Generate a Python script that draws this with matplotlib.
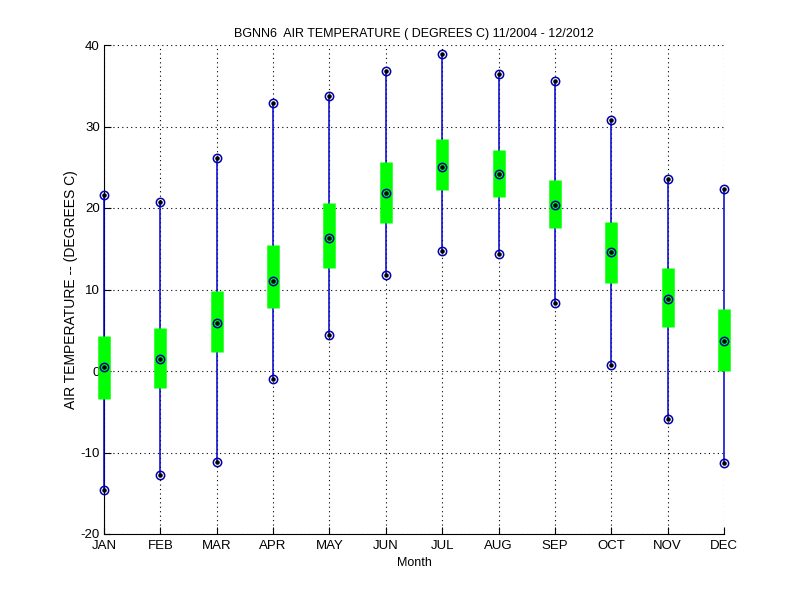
import matplotlib
matplotlib.use("Agg")
import matplotlib.pyplot as plt
import numpy as np

plt.rcParams['font.family'] = ['Liberation Sans', 'DejaVu Sans']
plt.rcParams['axes.unicode_minus'] = False

months = ['JAN', 'FEB', 'MAR', 'APR', 'MAY', 'JUN',
          'JUL', 'AUG', 'SEP', 'OCT', 'NOV', 'DEC']
t_max = [21.6, 20.7, 26.1, 32.9, 33.7, 36.8, 38.9, 36.4, 35.6, 30.8, 23.6, 22.3]
t_min = [-14.6, -12.8, -11.2, -1.0, 4.4, 11.8, 14.7, 14.4, 8.3, 0.7, -5.9, -11.3]
t_mean = [0.5, 1.5, 5.9, 11.0, 16.3, 21.8, 25.0, 24.2, 20.4, 14.6, 8.8, 3.7]
box_hi = [4.3, 5.3, 9.8, 15.5, 20.6, 25.6, 28.5, 27.1, 23.4, 18.3, 12.6, 7.6]
box_lo = [-3.4, -2.1, 2.3, 7.7, 12.6, 18.2, 22.2, 21.3, 17.5, 10.8, 5.4, 0.0]

x = np.arange(1, len(months) + 1)

fig = plt.figure(figsize=(8, 6), dpi=100)
ax = fig.add_axes([0.13, 0.11, 0.775, 0.815])

# range line max -> min
ax.vlines(x, t_min, t_max, color='#0000cc', lw=1.1, zorder=3, clip_on=False)
# green box (mean +/- std)
ax.vlines(x, box_lo, box_hi, color='#00ff00', lw=9, zorder=3, clip_on=False)

# markers: open blue circle with black dot
for vals in (t_max, t_min, t_mean):
    ax.plot(x, vals, 'o', mfc='none', mec='#0000aa', ms=6, mew=1.1,
            zorder=4, clip_on=False)
    ax.plot(x, vals, '.', color='black', ms=4.5, zorder=5, clip_on=False)

ax.set_xlim(1, 12)
ax.set_ylim(-20, 40)
ax.set_xticks(x)
ax.set_xticklabels(months)
ax.set_yticks(np.arange(-20, 41, 10))

ax.grid(True, color='black', linestyle=(0, (1, 3)), lw=0.8)
ax.spines['top'].set_visible(False)
ax.spines['right'].set_visible(False)
ax.spines['left'].set_zorder(2)
ax.tick_params(direction='in', length=5, labelsize=9.5, pad=3)
ax.tick_params(axis='x', pad=4)

ax.set_title('BGNN6  AIR TEMPERATURE ( DEGREES C) 11/2004 - 12/2012', fontsize=9)
ax.set_xlabel('Month', fontsize=9, labelpad=4)
ax.set_ylabel('AIR TEMPERATURE -- (DEGREES C)', fontsize=10, labelpad=2)

fig.savefig('out.png', dpi=100)
